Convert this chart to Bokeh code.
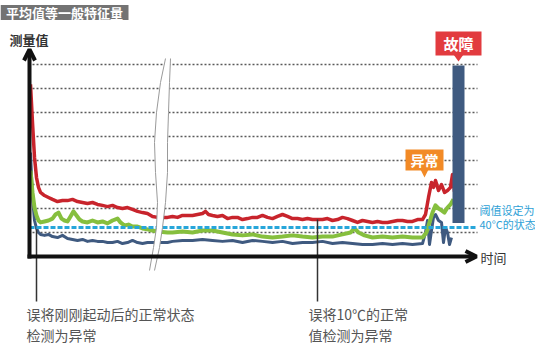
from bokeh.plotting import figure
from bokeh.models import Range1d, Label, Arrow, OpenHead
from bokeh.embed import file_html
from bokeh.resources import INLINE

# ---------------- data (time index, measured value) ----------------
red_x = [38, 40, 42, 44, 46, 48, 52, 56, 60, 65, 70, 75, 80, 85, 90, 95, 100, 105, 110, 115, 120, 125, 130, 135,
         140, 145, 150, 155, 160, 165, 175, 180, 185, 190, 195, 200, 205, 210, 213, 216, 220, 225, 230, 235, 240,
         245, 250, 255, 260, 265, 270, 275, 280, 285, 290, 295, 300, 305, 310, 315, 320, 325, 330, 335, 340, 345,
         350, 355, 360, 365, 370, 375, 380, 385, 390, 395, 400, 405, 410, 415, 420, 425, 430, 433, 436, 439, 441,
         443, 446, 449, 452, 455, 458, 460, 462]
red_v = [71.7, 55.8, 41.3, 32.9, 28.8, 26.7, 25.4, 24.6, 23.8, 22.9, 23.3, 23.3, 23.8, 22.9, 22.5, 22.1, 22.5, 21.7,
         21.3, 20.8, 21.3, 20.4, 20.0, 20.4, 19.6, 18.8, 18.3, 17.9, 16.7, 16.3, 16.3, 16.7, 16.3, 17.1, 17.1, 17.1,
         17.5, 17.9, 18.8, 17.5, 17.1, 16.7, 17.1, 15.8, 16.3, 16.3, 15.4, 15.8, 16.3, 16.3, 17.1, 16.3, 15.8, 16.7,
         17.5, 16.7, 15.8, 15.8, 15.4, 15.8, 15.4, 15.4, 15.4, 15.8, 15.0, 15.4, 16.3, 15.8, 15.0, 14.2, 15.0, 14.6,
         14.2, 14.6, 14.2, 14.2, 14.6, 15.0, 15.0, 14.6, 14.6, 15.4, 15.4, 17.5, 24.6, 30.8, 28.8, 31.7, 27.5, 30.0,
         26.7, 27.5, 28.8, 34.2, 27.0]

green_x = [38, 40, 42, 44, 46, 48, 52, 56, 60, 63, 66, 69, 72, 75, 78, 81, 84, 87, 90, 95, 100, 105, 110, 115, 120,
           125, 128, 132, 136, 140, 145, 150, 155, 160, 165, 175, 180, 190, 200, 210, 220, 230, 240, 250, 260, 270,
           280, 290, 300, 310, 320, 330, 340, 350, 358, 362, 366, 372, 380, 390, 400, 410, 420, 430, 434, 437, 440,
           443, 446, 449, 452, 455, 458, 461]
green_v = [35.8, 26.7, 20.4, 17.1, 15.0, 14.2, 14.6, 15.0, 15.8, 17.5, 18.3, 15.8, 15.0, 14.6, 16.7, 18.8, 17.1, 15.4,
           14.6, 14.2, 15.0, 14.2, 14.6, 13.8, 15.0, 15.8, 14.2, 12.9, 13.3, 12.5, 12.5, 11.7, 11.3, 10.8, 10.4, 10.0,
           10.0, 10.4, 10.0, 10.8, 10.8, 10.0, 9.2, 8.8, 9.2, 8.3, 7.9, 8.3, 8.8, 8.3, 7.9, 8.3, 8.3, 9.2, 10.0, 11.7,
           10.0, 8.8, 7.9, 8.3, 7.9, 8.3, 7.9, 7.9, 10.0, 14.2, 18.3, 21.3, 20.0, 19.2, 18.3, 20.4, 21.7, 23.8]

blue_x = [38, 40, 42, 44, 46, 48, 52, 56, 60, 65, 70, 75, 80, 85, 90, 95, 100, 105, 110, 115, 120, 125, 130, 135,
          140, 145, 150, 155, 160, 165, 175, 180, 190, 200, 210, 220, 230, 240, 250, 260, 270, 280, 290, 300, 310,
          320, 330, 340, 350, 360, 370, 380, 390, 400, 410, 420, 430, 433, 435, 437, 439, 441, 443, 446, 449, 451,
          453, 455, 457, 459]
blue_v = [43.3, 24.6, 15.0, 11.7, 10.0, 9.2, 8.8, 9.2, 8.3, 7.9, 8.8, 7.5, 7.1, 6.7, 7.1, 6.3, 6.7, 6.3, 6.3, 5.8,
          5.8, 6.3, 5.4, 5.8, 6.7, 5.8, 5.4, 5.8, 5.8, 5.8, 5.8, 6.3, 6.7, 6.7, 7.1, 6.7, 6.3, 6.7, 5.8, 6.7, 6.3,
          5.8, 6.3, 5.4, 5.8, 5.8, 6.3, 5.4, 5.8, 5.4, 5.0, 5.0, 5.4, 5.0, 5.4, 5.0, 5.4, 10.0, 15.0, 5.0, 10.8,
          16.3, 17.5, 15.0, 14.2, 5.8, 12.1, 10.0, 5.0, 7.9]

fault_x = [466]
fault_top = [79.6]
fault_bottom = [14.0]

threshold = 12.1
grid_levels = [10, 20, 30, 40, 50, 60, 70, 80]

title_text = "平均值等一般特征量"
ylabel_text = "测量值"
xlabel_text = "时间"
thr_text = ["阈值设定为", "40°C的状态"]
note1 = ["误将刚刚起动后的正常状态", "检测为异常"]
note2 = ["误将10℃的正常", "值检测为异常"]
fault_text = "故障"
anom_text = "异常"

# ---------------- colours ----------------
RED = "#c8242c"
GREEN = "#86bf3e"
BLUE = "#3f5a80"
CYAN = "#27a6da"
FONT = "Noto Sans CJK SC"

W, H = 535, 343
TOP = 8  # page row of the figure's top edge


def Y(page_y):
    """page pixel row -> measured-value units"""
    return (264 - page_y) / 2.4


p = figure(width=W, height=H, x_range=Range1d(8, 8 + W), y_range=Range1d(Y(TOP + H), Y(TOP)),
           output_backend="svg", toolbar_location=None, x_axis_type=None, y_axis_type=None,
           min_border=0)
p.outline_line_color = None
p.background_fill_color = "white"
p.border_fill_color = "white"

# grid lines
p.segment(x0=40, x1=485, y0=grid_levels, y1=grid_levels, line_dash="2 2",
          line_color="#5a5a5a", line_width=1.6)

# series
p.line(blue_x, blue_v, line_color=BLUE, line_width=3, line_join="round")
p.line(green_x, green_v, line_color=GREEN, line_width=4, line_join="round")
p.line(red_x, red_v, line_color=RED, line_width=3.5, line_join="round")
p.vbar(x=fault_x, width=12, top=fault_top, bottom=fault_bottom, fill_color=BLUE, line_color=None)

# threshold
p.line([37, 485], [threshold, threshold], line_color=CYAN, line_width=3, line_dash="5 2")

# axis break
left_px = [173, 168, 164, 162, 163, 165, 164, 161, 157]
right_px = [178, 177, 176, 175, 175, 173, 170, 167, 162]
rows_py = [66, 90, 120, 150, 180, 210, 235, 255, 278]
band_x = left_px + right_px[::-1]
band_y = [Y(r) for r in rows_py] + [Y(r) for r in rows_py[::-1]]
p.patch(band_x, band_y, fill_color="white", line_color=None)
p.line(left_px, [Y(r) for r in rows_py], line_color="#9a9a9a", line_width=1)
p.line(right_px, [Y(r) for r in rows_py], line_color="#9a9a9a", line_width=1)

# annotation pointer lines
p.segment(x0=[44, 325], x1=[44, 325], y0=[Y(237), Y(227)], y1=[Y(309), Y(309)],
          line_color="#333333", line_width=1.5)

# axes with arrows
p.add_layout(Arrow(end=OpenHead(size=11, line_width=4, line_color="#111111"),
                   x_start=37, y_start=Y(266), x_end=37, y_end=Y(57),
                   line_width=4, line_color="#111111"))
p.add_layout(Arrow(end=OpenHead(size=11, line_width=4, line_color="#111111"),
                   x_start=35, y_start=Y(264), x_end=484, y_end=Y(264),
                   line_width=4, line_color="#111111"))

# title box
p.quad(left=8, right=136, top=Y(12.5), bottom=Y(27.5), fill_color="#737373", line_color=None)
p.add_layout(Label(x=72, y=Y(20), text=title_text, text_font=FONT, text_font_size="13px",
                   text_font_style="bold", text_color="white", text_align="center",
                   text_baseline="middle"))

# fault box
p.quad(left=443, right=489, top=Y(39), bottom=Y(63), fill_color="#e23b3f", line_color=None)
p.patch([461, 471, 466], [Y(62), Y(62), Y(69)], fill_color="#e23b3f", line_color=None)
p.add_layout(Label(x=466, y=Y(51), text=fault_text, text_font=FONT, text_font_size="15px",
                   text_font_style="bold", text_color="white", text_align="center",
                   text_baseline="middle"))

# anomaly box
p.quad(left=413, right=451, top=Y(157), bottom=Y(178), fill_color="#f28a26", line_color=None)
p.patch([428, 436, 432], [Y(177), Y(177), Y(185)], fill_color="#f28a26", line_color=None)
p.add_layout(Label(x=432, y=Y(167.5), text=anom_text, text_font=FONT, text_font_size="14px",
                   text_font_style="bold", text_color="white", text_align="center",
                   text_baseline="middle"))

# axis labels
p.add_layout(Label(x=17, y=Y(46.5), text=ylabel_text, text_font=FONT, text_font_size="13px",
                   text_font_style="bold", text_color="#333333", text_align="left",
                   text_baseline="middle"))
p.add_layout(Label(x=488, y=Y(265), text=xlabel_text, text_font=FONT, text_font_size="13px",
                   text_color="#333333", text_align="left", text_baseline="middle"))

# threshold label
for t, r in zip(thr_text, [217, 231]):
    p.add_layout(Label(x=487, y=Y(r), text=t, text_font=FONT, text_font_size="11px",
                       text_color="#2e9fd6", text_align="left", text_baseline="middle"))

# notes
for t, r in zip(note1, [321, 342]):
    p.add_layout(Label(x=34, y=Y(r), text=t, text_font=FONT, text_font_size="14px",
                       text_color="#555555", text_align="left", text_baseline="middle"))
for t, r in zip(note2, [321, 342]):
    p.add_layout(Label(x=316, y=Y(r), text=t, text_font=FONT, text_font_size="14px",
                       text_color="#555555", text_align="left", text_baseline="middle"))

open("out.html", "w").write(file_html(p, INLINE))
